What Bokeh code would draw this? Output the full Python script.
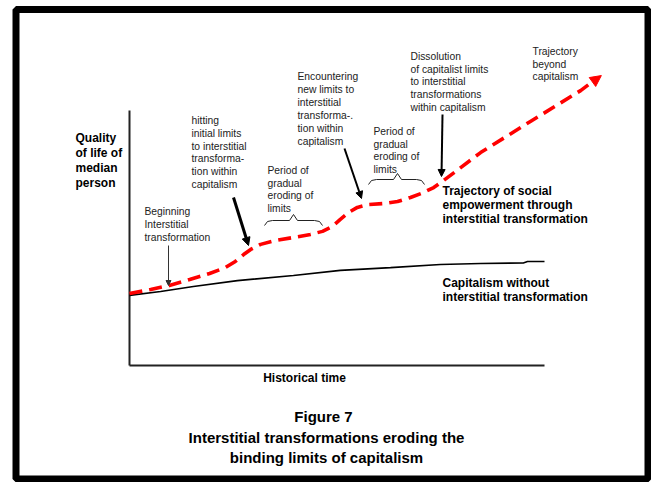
from bokeh.plotting import figure
from bokeh.models import Range1d, Label, Arrow, NormalHead, BoxAnnotation
from bokeh.embed import file_html
from bokeh.resources import INLINE

# ---------------- data (time 0..100 along x-axis, quality 0..100 = axis height) -------------
time_capitalism = [0, 7.5, 15.4, 26.0, 39.5, 50.8, 62.9, 74.9, 84.6, 94.9, 95.9, 100]
quality_capitalism = [27.5, 29.0, 31.0, 33.3, 35.3, 37.3, 38.4, 39.6, 40.0, 40.2, 40.8, 40.8]

time_interstitial = [0, 5.1, 9.6, 14.5, 19.3, 23.1, 25.5, 27.5, 29.2, 31.6, 35.2, 39.5, 43.6,
                     46.5, 48.9, 50.8, 52.8, 54.9, 57.6, 61.2, 64.6, 67.7, 70.8, 73.3, 75.4,
                     84.6, 96.6, 108.7, 113.7]
quality_interstitial = [28.2, 29.8, 31.4, 33.7, 36.1, 38.4, 40.8, 43.5, 45.5, 47.5, 49.0, 50.2, 51.4,
                        52.6, 54.5, 57.3, 60.0, 62.0, 63.1, 63.5, 64.3, 65.9, 67.8, 69.8, 72.2,
                        83.5, 95.7, 107.8, 113.7]

axis_time = [0, 100]
axis_quality = [0, 100]

# ---------------- layout (picture pixels) ----------------
AX_X0, AX_X1 = 129, 544      # x of time 0 and time 100
AX_Y0, AX_Y1 = 365, 110      # y of quality 0 and quality 100
PX_T = (AX_X1 - AX_X0) / 100.0
PX_Q = (AX_Y0 - AX_Y1) / 100.0
PAGE_L, PAGE_T = 0, 0
W, H = 651, 482


def tx(x):
    return (x - AX_X0) / PX_T


def qy(y):
    return (AX_Y0 - y) / PX_Q


p = figure(width=W, height=H, output_backend="svg", toolbar_location=None,
           x_range=Range1d(tx(PAGE_L), tx(PAGE_L + W)),
           y_range=Range1d(qy(PAGE_T + H), qy(PAGE_T)),
           min_border=0, x_axis_type=None, y_axis_type=None)
p.outline_line_color = None
p.grid.grid_line_color = None
p.background_fill_color = "white"
p.border_fill_color = "white"

# outer frame
p.add_layout(BoxAnnotation(left=tx(15.5), right=tx(647.5), top=qy(9), bottom=qy(478.5),
                           fill_alpha=0, line_color="black", line_alpha=1, line_width=7))

# axes
p.line([axis_time[0], axis_time[1]], [axis_quality[0], axis_quality[0]], line_color="#222222", line_width=2)
p.line([axis_time[0], axis_time[0]], [axis_quality[0], axis_quality[1]], line_color="#222222", line_width=2)

# curves
p.line(time_capitalism, quality_capitalism, line_color="black", line_width=1.6)
p.line(time_interstitial[:-1] + [time_interstitial[-1] - 1.2],
       quality_interstitial[:-1] + [quality_interstitial[-1] - 1.2],
       line_color="#ff0000", line_width=3.6, line_dash="13 7")
p.add_layout(Arrow(end=NormalHead(size=11, fill_color="#ff0000", line_color="#ff0000"),
                   x_start=time_interstitial[-2], y_start=quality_interstitial[-2],
                   x_end=time_interstitial[-1], y_end=quality_interstitial[-1],
                   line_alpha=0))


def arrow(x0, y0, x1, y1, width, size, color="black"):
    p.add_layout(Arrow(end=NormalHead(size=size, fill_color=color, line_color=color, line_width=1),
                       x_start=tx(x0), y_start=qy(y0), x_end=tx(x1), y_end=qy(y1),
                       line_color=color, line_width=width))


arrow(168, 245, 168, 285, 1, 5, "#333333")
arrow(233, 197, 248, 245, 3, 8)
arrow(344, 148, 361, 198, 2, 7)
arrow(442, 114, 441, 176, 2, 7)


def brace(x0, x1, ybase, ypeak, xpeak):
    xs = [x0, x0 + 3, x0 + 8, xpeak - 4, xpeak, xpeak + 4, x1 - 8, x1 - 3, x1]
    ys = [ybase + 2, ybase - 2, ybase - 3, ybase - 3, ypeak, ybase - 3, ybase - 3, ybase - 2, ybase + 2]
    p.line([tx(v) for v in xs], [qy(v) for v in ys], line_color="#222222", line_width=1)


brace(264, 322, 223, 214, 293)
brace(368, 424, 182, 173, 397)


def block(lines, x, y0, dy, size, bold=False, align="left", color="#222222"):
    for i, s in enumerate(lines):
        p.add_layout(Label(x=tx(x), y=qy(y0 + i * dy), text=s,
                           text_font="Liberation Sans", text_font_size=f"{size}px",
                           text_font_style="bold" if bold else "normal",
                           text_baseline="middle", text_align=align, text_color=color))


block(["Trajectory", "beyond", "capitalism"], 532, 51, 12.5, 10.3)
block(["Dissolution", "of capitalist limits", "to interstitial", "transformations", "within capitalism"],
      410, 56, 12.7, 10.3)
block(["Encountering", "new limits to", "interstitial", "transforma-.", "tion within", "capitalism"],
      297, 76, 13, 10.3)
block(["hitting", "initial limits", "to interstitial", "transforma-", "tion within", "capitalism"],
      191, 120, 12.8, 10.3)
block(["Period of", "gradual", "eroding of", "limits"], 267, 170, 12.5, 10.3)
block(["Period of", "gradual", "eroding of", "limits"], 373, 131, 12.7, 10.3)
block(["Beginning", "Interstitial", "transformation"], 144, 211, 13, 10.3)
block(["Quality", "of life of", "median", "person"], 75, 137, 15, 12, bold=True, color="black")
block(["Trajectory of social", "empowerment through", "interstitial transformation"], 442, 190, 14, 12,
      bold=True, color="black")
block(["Capitalism without", "interstitial transformation"], 442, 282, 14.5, 12, bold=True, color="black")
block(["Historical time"], 304, 377, 0, 12, bold=True, align="center", color="black")
block(["Figure 7"], 323, 416, 0, 15, bold=True, align="center", color="black")
block(["Interstitial transformations eroding the", "binding limits of capitalism"], 326, 437, 19.5, 15,
      bold=True, align="center", color="black")

open("out.html", "w").write(file_html(p, INLINE))
